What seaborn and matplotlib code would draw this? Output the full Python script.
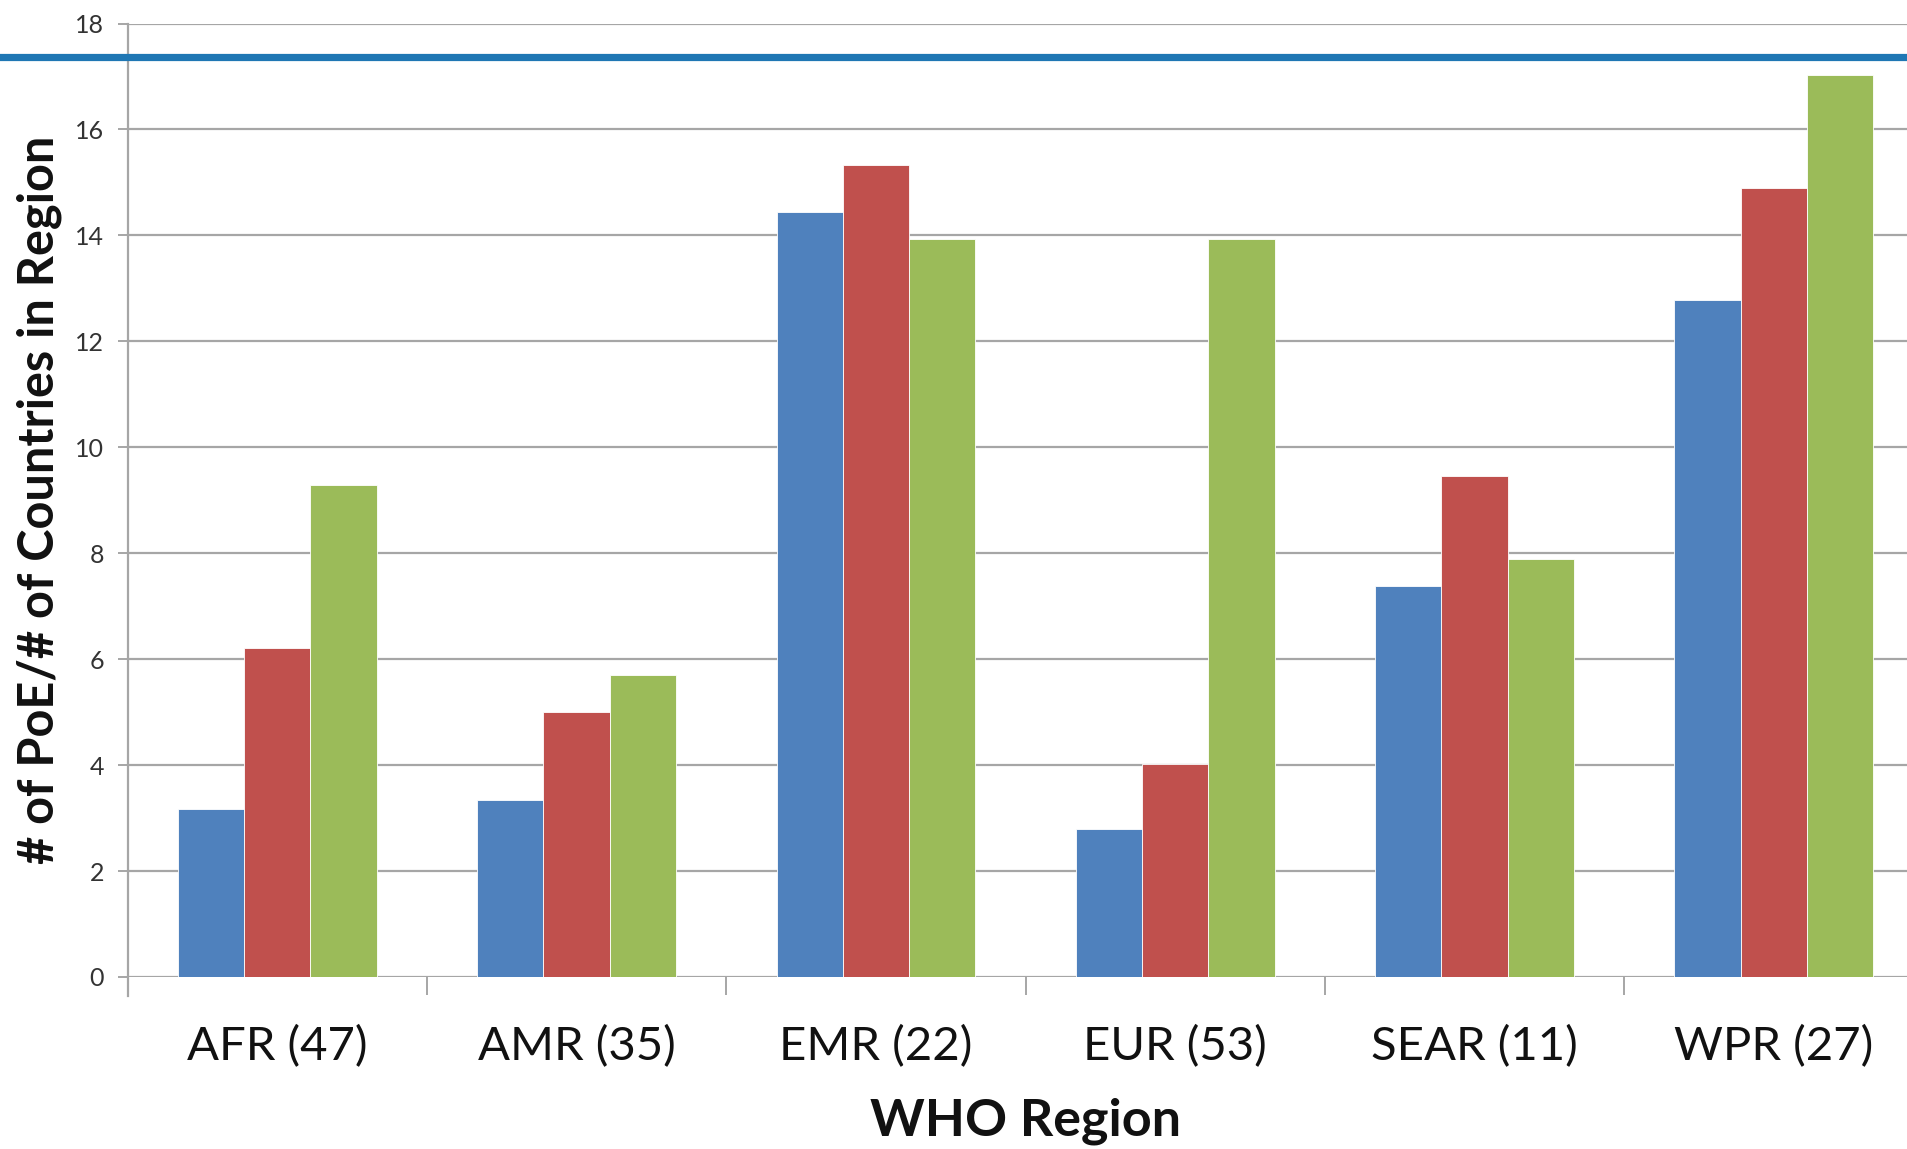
import matplotlib
matplotlib.use("Agg")
import matplotlib.pyplot as plt
import seaborn as sns
import pandas as pd
import numpy as np

# Points of entry per country, by WHO region (three series)
regions = ["AFR (47)", "AMR (35)", "EMR (22)", "EUR (53)", "SEAR (11)", "WPR (27)"]
series_names = ["Series 1", "Series 2", "Series 3"]
series_1 = [3.18, 3.34, 14.45, 2.79, 7.38, 12.79]
series_2 = [6.21, 5.00, 15.33, 4.03, 9.45, 14.89]
series_3 = [9.29, 5.70, 13.93, 13.93, 7.90, 17.02]
reference_level = 17.36

y_ticks = [0, 2, 4, 6, 8, 10, 12, 14, 16, 18]
bar_colors = ["#4F81BD", "#C0504D", "#9BBB59"]

df = pd.DataFrame({
    "region": regions * 3,
    "series": np.repeat(series_names, len(regions)),
    "value": series_1 + series_2 + series_3,
})

sns.set_theme(style="white")
plt.rcParams["font.family"] = ["Lato", "DejaVu Sans"]

DPI = 100
fig = plt.figure(figsize=(19.08, 11.49), dpi=DPI)
ax = fig.add_axes([0.0669, 0.1497, 1.0081 - 0.0669, 0.9795 - 0.1497])

sns.barplot(data=df, x="region", y="value", hue="series", order=regions,
            hue_order=series_names, palette=bar_colors, width=0.664, gap=0,
            saturation=1, edgecolor="#ffffff", linewidth=0.6, legend=False,
            zorder=3, ax=ax)

ax.set_xlim(-0.5, len(regions) - 0.5)
ax.set_ylim(0, 18)
ax.set_yticks(y_ticks)
ax.set_yticklabels([str(t) for t in y_ticks])

grid_color = "#a6a6a6"
ax.yaxis.grid(True, color=grid_color, linewidth=1.6, zorder=0)
ax.xaxis.grid(False)
for side in ["top", "right", "bottom"]:
    ax.spines[side].set_visible(False)
ax.spines["left"].set_color(grid_color)
ax.spines["left"].set_linewidth(1.6)
ax.spines["left"].set_bounds(-0.35, 18)
ax.set_axisbelow(True)

# y ticks
ax.tick_params(axis="y", which="major", left=True, length=7, width=1.4,
               color=grid_color, pad=10, labelsize=18, labelcolor="#333333")

# category separators on the x axis
ax.set_xticks(np.arange(-0.5, len(regions), 1.0), minor=True)
ax.tick_params(axis="x", which="minor", bottom=True, length=13, width=1.4,
               color=grid_color)
ax.tick_params(axis="x", which="major", bottom=False, length=0, pad=50,
               labelsize=34, labelcolor="#111111")
for lbl in ax.get_xticklabels():
    lbl.set_va("center")

# horizontal reference line across the full width
ax.axhline(reference_level, xmin=-0.08, xmax=1.01, color="#1f77b4",
           linewidth=5.2, clip_on=False, zorder=5)

ax.set_xlabel("WHO Region", fontsize=37.5, fontweight="bold", color="#111111")
ax.xaxis.set_label_coords(0.5, -0.151)
ax.xaxis.label.set_va("center")
ax.set_ylabel("# of PoE/# of Countries in Region", fontsize=35,
              fontweight="bold", color="#111111")
ax.yaxis.set_label_coords(-0.0494, 0.5)
ax.yaxis.label.set_va("center")

fig.savefig("out.png", dpi=DPI)
